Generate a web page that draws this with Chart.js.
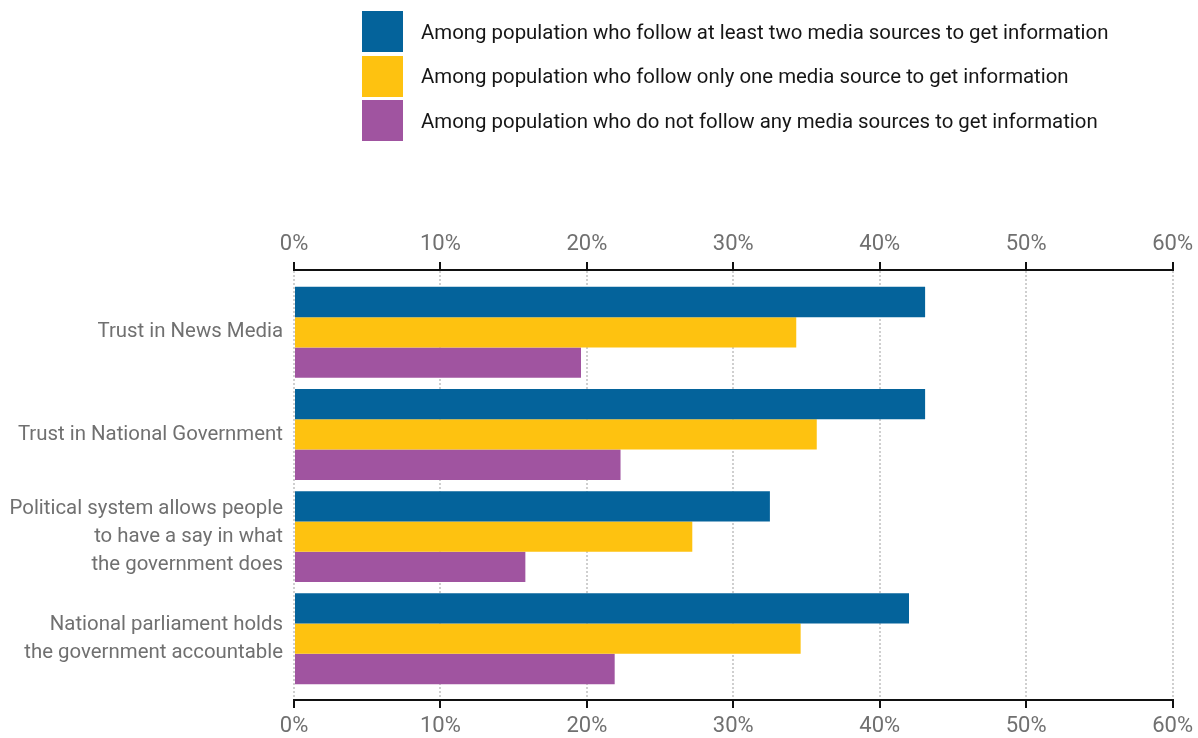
<!DOCTYPE html>
<html>
<head>
<meta charset="utf-8">
<script src="https://cdn.jsdelivr.net/npm/chart.js@4.4.1/dist/chart.umd.min.js"></script>
<style>
  body { margin: 0; background: #fff; }
  #wrap { position: relative; width: 1198px; height: 738px; }
  #legend { position: absolute; left: 362px; top: 11px; font-family: Roboto, sans-serif; font-size: 20.4px; color: #161616; white-space: nowrap; }
  .item { display: flex; align-items: center; height: 41px; margin-bottom: 3.5px; }
  .box { width: 41px; height: 41px; margin-right: 18px; flex: none; }
</style>
</head>
<body>
<div id="wrap">
  <canvas id="chart" width="1198" height="738"></canvas>
  <div id="legend"></div>
</div>
<script>
const categories = [
  'Trust in News Media',
  'Trust in National Government',
  ['Political system allows people', 'to have a say in what', 'the government does'],
  ['National parliament holds', 'the government accountable'],
];
const seriesNames = [
  'Among population who follow at least two media sources to get information',
  'Among population who follow only one media source to get information',
  'Among population who do not follow any media sources to get information',
];
const twoOrMore = [43.1, 43.1, 32.5, 42.0];
const onlyOne   = [34.3, 35.7, 27.2, 34.6];
const noneMedia = [19.6, 22.3, 15.8, 21.9];
const xTicks = [0, 10, 20, 30, 40, 50, 60];

const colors = ['#04639b', '#fec210', '#a054a0'];
const FONT = 'Roboto, sans-serif';

const toPoints = vals => vals.map((v, i) => ({ x: v, y: i }));

// same config for the top and the bottom percent axis
const xAxis = (pos, onArea) => ({
  type: 'linear',
  position: pos,
  min: 0, max: 60,
  afterBuildTicks: s => { s.ticks = xTicks.map(v => ({ value: v })); },
  afterFit: s => { s.height = pos === 'top' ? 270 : 38; },
  ticks: { color: '#707070', padding: pos === 'top' ? 4 : 5, font: { family: FONT, size: 22 }, callback: v => v + '%' },
  grid: { display: true, drawOnChartArea: onArea, color: '#cfcfcf', lineWidth: 2,
          tickColor: '#111', tickWidth: 2, tickLength: 8, tickBorderDash: [] },
  border: { display: true, color: '#111', width: 2, dash: [2, 2] },
});

const chart = new Chart(document.getElementById('chart'), {
  type: 'bar',
  data: {
    datasets: [
      { label: seriesNames[0], data: toPoints(twoOrMore), backgroundColor: colors[0] },
      { label: seriesNames[1], data: toPoints(onlyOne),   backgroundColor: colors[1] },
      { label: seriesNames[2], data: toPoints(noneMedia), backgroundColor: colors[2] },
    ]
  },
  options: {
    indexAxis: 'y',
    responsive: false,
    animation: false,
    categoryPercentage: 0.89,
    barPercentage: 1.0,
    layout: { padding: { left: 0, right: 20, top: 0, bottom: 0 } },
    plugins: { legend: { display: false }, tooltip: { enabled: false } },
    scales: {
      x: xAxis('top', true),
      x2: xAxis('bottom', false),
      y: {
        type: 'linear',
        reverse: true,
        offset: false,
        min: -0.61, max: 3.6,
        afterBuildTicks: s => { s.ticks = categories.map((c, i) => ({ value: i })); },
        afterFit: s => { s.width = 294; },
        ticks: { color: '#707070', padding: 11, font: { family: FONT, size: 20.4, lineHeight: 1.37 },
                 callback: v => categories[v] },
        grid: { display: false, drawTicks: false, offset: false },
        border: { display: false },
      }
    }
  }
});

const legend = document.getElementById('legend');
chart.data.datasets.forEach(ds => {
  const row = document.createElement('div');
  row.className = 'item';
  const box = document.createElement('div');
  box.className = 'box';
  box.style.background = ds.backgroundColor;
  const txt = document.createElement('span');
  txt.textContent = ds.label;
  row.appendChild(box);
  row.appendChild(txt);
  legend.appendChild(row);
});
</script>
</body>
</html>
